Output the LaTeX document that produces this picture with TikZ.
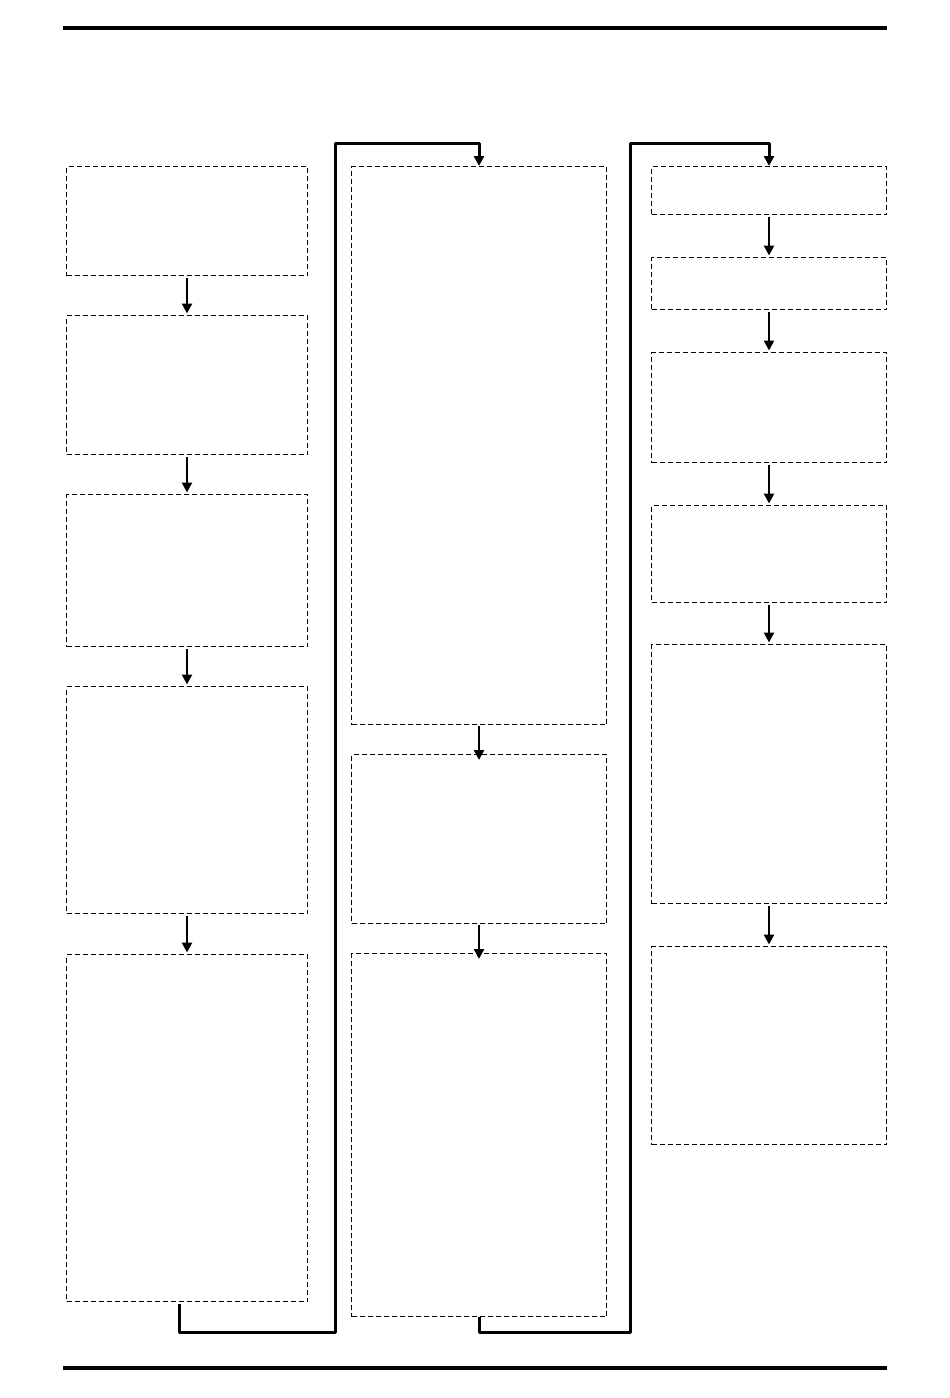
\documentclass[tikz,border=0pt]{standalone}
\usetikzlibrary{arrows.meta}

\begin{document}
\begin{tikzpicture}[x=1pt, y=-1pt,
    stage/.style={draw, dash pattern=on 5pt off 3pt, line width=1pt, inner sep=0pt, anchor=north west},
    flow/.style={-{Triangle[length=10pt, width=10pt]}, line width=2.8pt, shorten <=2pt, shorten >=1.5pt},
    link/.style={-{Triangle[length=10pt, width=10pt]}, line width=3pt, line join=round},
    rule/.style={line width=4pt}]
            \useasboundingbox (0, 0) rectangle (950, 1398);
            \draw[rule] (63, 28) -- (887, 28);
            \draw[rule] (63, 1368) -- (887, 1368);

            % first column
            \node[stage, minimum width=241, minimum height=109] (b1) at (66, 166) {};
            \node[stage, minimum width=241, minimum height=139] (b2) at (66, 315) {};
            \node[stage, minimum width=241, minimum height=152] (b3) at (66, 494) {};
            \node[stage, minimum width=241, minimum height=227] (b4) at (66, 686) {};
            \node[stage, minimum width=241, minimum height=347] (b5) at (66, 954) {};
            \draw[flow] (b1) -- (b2);
            \draw[flow] (b2) -- (b3);
            \draw[flow] (b3) -- (b4);
            \draw[flow] (b4) -- (b5);

            % second column
            \node[stage, minimum width=255, minimum height=558] (b6) at (351, 166) {};
            \node[stage, minimum width=255, minimum height=169] (b7) at (351, 754) {};
            \node[stage, minimum width=255, minimum height=363] (b8) at (351, 953) {};
            \draw[flow, shorten <=1pt, shorten >=-6pt] (b6) -- (b7);
            \draw[flow, shorten <=1pt, shorten >=-6pt] (b7) -- (b8);

            % third column
            \node[stage, minimum width=235, minimum height=48] (b9) at (651, 166) {};
            \node[stage, minimum width=235, minimum height=52] (b10) at (651, 257) {};
            \node[stage, minimum width=235, minimum height=110] (b11) at (651, 352) {};
            \node[stage, minimum width=235, minimum height=97] (b12) at (651, 505) {};
            \node[stage, minimum width=235, minimum height=259] (b13) at (651, 644) {};
            \node[stage, minimum width=235, minimum height=198] (b14) at (651, 946) {};
            \draw[flow] (b9) -- (b10);
            \draw[flow] (b10) -- (b11);
            \draw[flow] (b11) -- (b12);
            \draw[flow] (b12) -- (b13);
            \draw[flow] (b13) -- (b14);

            % column links
            \coordinate (c1) at (179, 1304);
            \draw[link] (c1) |- (335, 1332) -- (335, 143) -| (b6.north);
            \draw[link] (b8.south) |- (630, 1332) -- (630, 143) -| (b9.north);
        \end{tikzpicture}
\end{document}
